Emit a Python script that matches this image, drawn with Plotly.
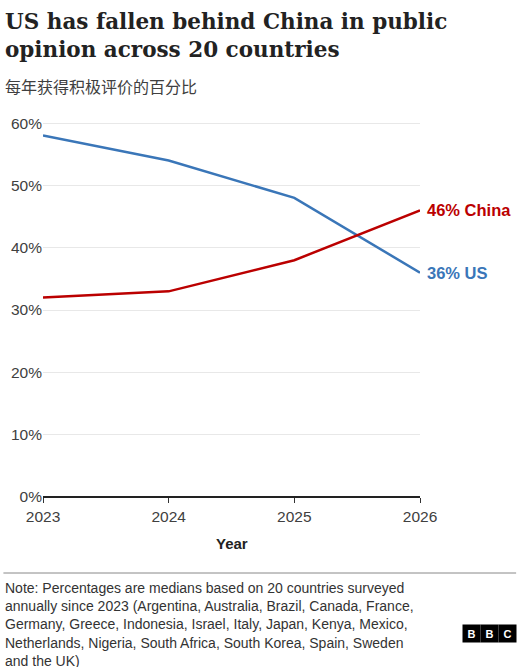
import plotly.graph_objects as go

years = [2023, 2024, 2025, 2026]
us = [58, 54, 48, 36]
china = [32, 33, 38, 46]
y_ticks = [0, 10, 20, 30, 40, 50, 60]

fig = go.Figure()
fig.add_trace(go.Scatter(x=years, y=us, mode='lines', line=dict(color='#3a76b8', width=2.5), name='US'))
fig.add_trace(go.Scatter(x=years, y=china, mode='lines', line=dict(color='#bb0000', width=2.5), name='China'))

fig.add_annotation(x=2026, y=china[-1], text='<b>46% China</b>', showarrow=False, xanchor='left', xshift=5,
                   font=dict(color='#bb0000', size=16.5))
fig.add_annotation(x=2026, y=us[-1], text='<b>36% US</b>', showarrow=False, xanchor='left', xshift=5,
                   font=dict(color='#3a76b8', size=16.5))

# titles
fig.add_annotation(x=0, y=1, xref='paper', yref='paper', xanchor='left', yanchor='top', xshift=-40, yshift=113,
                   text='<b>US has fallen behind China in public<br>opinion across 20 countries</b>', showarrow=False, align='left',
                   font=dict(family='DejaVu Serif', size=21.5, color='#222'))
fig.add_annotation(x=0, y=1, xref='paper', yref='paper', xanchor='left', yanchor='top', xshift=-40, yshift=48,
                   text='每年获得积极评价的百分比', showarrow=False, font=dict(family='Noto Sans CJK SC', size=16, color='#404040'))
fig.add_annotation(x=0.5, y=0, xref='paper', yref='paper', yanchor='top', yshift=-36,
                   text='<b>Year</b>', showarrow=False, font=dict(size=15, color='#222'))
fig.add_shape(type='line', xref='paper', yref='paper', x0=-0.105, x1=1.255, y0=-0.2016, y1=-0.2016,
              line=dict(color='#888', width=1))
fig.add_annotation(x=0, y=0, xref='paper', yref='paper', xanchor='left', yanchor='top', xshift=-40, yshift=-81,
                   text='Note: Percentages are medians based on 20 countries surveyed<br>annually since 2023 (Argentina, Australia, Brazil, Canada, France,<br>Germany, Greece, Indonesia, Israel, Italy, Japan, Kenya, Mexico,<br>Netherlands, Nigeria, South Africa, South Korea, Spain, Sweden<br>and the UK)',
                   showarrow=False, align='left', font=dict(size=14, color='#333'))
# BBC logo
for i, ch in enumerate('BBC'):
    fig.add_annotation(x=1, y=0, xref='paper', yref='paper', xanchor='left', yanchor='top',
                       xshift=42 + i * 18, yshift=-127, text='<b>%s</b>' % ch, showarrow=False,
                       bgcolor='black', width=15, height=15, font=dict(color='white', size=11, family='Arial'))

fig.update_layout(
    width=521, height=667, margin=dict(l=43, r=101, t=120, b=170),
    paper_bgcolor='white', plot_bgcolor='white', showlegend=False,
    font=dict(family='Liberation Sans, Arial', size=15, color='#404040'),
)
fig.update_xaxes(range=[2023, 2026], tickvals=years, showgrid=False, ticks='outside', ticklen=5,
                 tickcolor='#333', showline=False, zeroline=False, tickfont=dict(size=15.5))
fig.update_yaxes(range=[0, 60.5], tickvals=y_ticks, ticktext=['%d%%' % v for v in y_ticks],
                 gridcolor='#e8e8e8', zeroline=True, zerolinecolor='#222', zerolinewidth=1.5,
                 ticks='', tickfont=dict(size=15.5))
fig.write_html("out.html", config={'displayModeBar': False},
               post_script="document.body.style.margin='0';")
